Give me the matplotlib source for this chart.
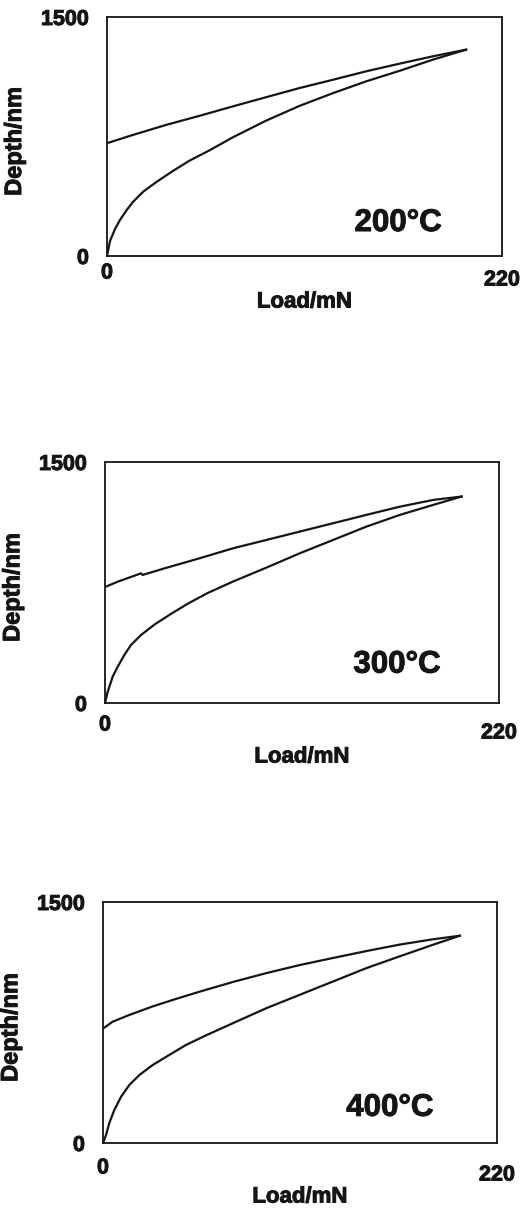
import matplotlib
matplotlib.use('Agg')
import matplotlib.pyplot as plt
import matplotlib.patheffects as pe
from matplotlib.transforms import ScaledTranslation

plt.rcParams['font.family'] = ['Liberation Sans', 'DejaVu Sans']
plt.rcParams['font.weight'] = 'bold'

# values (load in mN, depth in nm)
temps = ['200°C', '300°C', '400°C']

load_200 = [0, 1.7, 4.5, 7.2, 11.0, 14.6, 20.2, 27.7, 36.9, 46.2, 57.4, 70.1, 88.7, 107.2, 125.8, 144.3, 162.9, 181.4, 200.0]
depth_200 = [0, 95, 170, 226, 289, 341, 404, 466, 535, 600, 665, 745, 850, 942, 1022, 1096, 1162, 1232, 1295]
unload_200 = [0, 14.5, 33.0, 51.6, 70.1, 88.7, 107.2, 125.8, 144.3, 162.9, 181.4, 190.6, 200.0]
udepth_200 = [708, 760, 823, 880, 939, 997, 1054, 1106, 1159, 1207, 1253, 1274, 1295]

load_300 = [0, 1.5, 4.3, 7.1, 10.8, 14.5, 20.1, 27.6, 36.9, 46.2, 57.4, 71.5, 90.2, 108.8, 127.4, 146.0, 164.7, 183.3, 199.1]
depth_300 = [0, 70, 164, 226, 299, 361, 423, 488, 555, 618, 685, 756, 843, 932, 1015, 1098, 1171, 1233, 1285]
unload_300 = [0, 7.1, 20.1, 21.0, 33.2, 52.9, 71.5, 90.2, 108.8, 127.4, 146.0, 164.7, 183.3, 199.1]
udepth_300 = [722, 755, 807, 797, 838, 901, 963, 1015, 1067, 1119, 1171, 1222, 1264, 1285]

load_400 = [0, 1.7, 3.5, 6.3, 10.1, 14.7, 20.3, 27.7, 37.0, 46.3, 57.5, 72.8, 91.4, 110.0, 128.6, 147.2, 165.7, 184.3, 199.2]
depth_400 = [0, 50, 123, 205, 288, 361, 423, 485, 548, 610, 670, 747, 840, 923, 1006, 1089, 1162, 1234, 1290]
unload_400 = [0, 5.4, 14.7, 27.7, 40.8, 54.3, 72.8, 91.4, 110.0, 128.6, 147.2, 165.7, 184.3, 199.2]
udepth_400 = [712, 755, 797, 850, 897, 943, 1003, 1058, 1108, 1152, 1195, 1235, 1268, 1290]

x_max = 220
y_max = 1500

panels = [
    (load_200, depth_200, unload_200, udepth_200),
    (load_300, depth_300, unload_300, udepth_300),
    (load_400, depth_400, unload_400, udepth_400),
]

# axes boxes in pixels (left, top, right, bottom) and text offsets below the axes
boxes = [(107, 17, 502, 256), (105, 462, 499, 703), (103, 902, 497, 1143)]
zero_dy = [17, 22, 25]
end_dy = [24, 30, 32]
xlabel_dy = [46, 54, 54]
temp_pos = [(0.737, 0.138), (0.741, 0.159), (0.728, 0.146)]

W, H = 526, 1210
fig = plt.figure(figsize=(W / 100, H / 100), dpi=100)
ink = '#151515'
heavy = [pe.withStroke(linewidth=0.7, foreground=ink)]

for i, (lx, ly, ux, uy) in enumerate(panels):
    l, t, r, b = boxes[i]
    ax = fig.add_axes([l / W, 1 - b / H, (r - l) / W, (b - t) / H])
    ax.plot(lx, ly, color=ink, lw=1.6)
    ax.plot(ux, uy, color=ink, lw=1.6)
    ax.set_xlim(0, x_max)
    ax.set_ylim(0, y_max)
    for s in ax.spines.values():
        s.set_linewidth(1.3)
        s.set_color(ink)

    ax.set_yticks([0, y_max])
    ax.set_yticklabels(['0', str(y_max)], fontsize=15.5, fontweight='bold', color=ink)
    for lab in ax.get_yticklabels():
        lab.set_path_effects(heavy)
    ax.tick_params(axis='y', length=0, pad=13)
    ax.set_xticks([])

    # x tick labels sit at different heights in the original
    xt = ax.get_xaxis_transform()
    ax.text(0, 0, '0', fontsize=15.5, fontweight='bold', ha='center', va='center', color=ink,
            path_effects=heavy,
            transform=xt + ScaledTranslation(0, -zero_dy[i] / 100, fig.dpi_scale_trans))
    ax.text(x_max, 0, str(x_max), fontsize=15.5, fontweight='bold', ha='center', va='center',
            color=ink, path_effects=heavy,
            transform=xt + ScaledTranslation(0, -end_dy[i] / 100, fig.dpi_scale_trans))
    ax.text(0.5, 0, 'Load/mN', fontsize=16, fontweight='bold', ha='center', va='center', color=ink,
            path_effects=heavy,
            transform=ax.transAxes + ScaledTranslation(0, -xlabel_dy[i] / 100, fig.dpi_scale_trans))

    ylab = ax.set_ylabel('Depth/nm', fontsize=17, fontweight='bold', color=ink)
    ylab.set_path_effects(heavy)
    ax.yaxis.set_label_coords(-0.205, 0.48)

    tx, ty = temp_pos[i]
    ax.text(tx, ty, temps[i], fontsize=22.5, fontweight='bold', ha='center', va='center',
            color=ink, path_effects=heavy, transform=ax.transAxes)

fig.savefig('out.png', dpi=100)
